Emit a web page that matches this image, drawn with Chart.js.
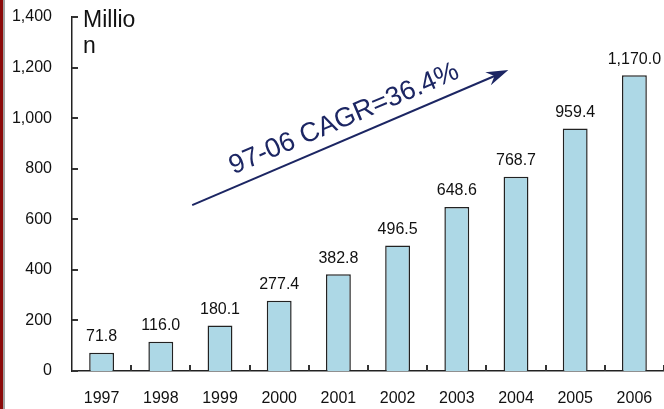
<!DOCTYPE html>
<html>
<head>
<meta charset="utf-8">
<script src="https://cdn.jsdelivr.net/npm/chart.js@4"></script>
<style>
  html, body { margin: 0; padding: 0; background: #fff; }
  #wrap { width: 664px; height: 409px; position: relative; }
</style>
</head>
<body>
<div id="wrap"><canvas id="subs"></canvas></div>
<script>
// Subscribers per year (million)
const years = ['1997', '1998', '1999', '2000', '2001', '2002', '2003', '2004', '2005', '2006'];
const subscribers = [71.8, 116.0, 180.1, 277.4, 382.8, 496.5, 648.6, 768.7, 959.4, 1170.0];
const yTicks = [0, 200, 400, 600, 800, 1000, 1200, 1400];
const unitLines = ['Millio', 'n'];
const growthNote = '97-06 CAGR=36.4%';

const FONT = '"Liberation Sans", Arial, Helvetica, sans-serif';
const NAVY = '#1c2663';

const fmt = v => v.toLocaleString('en-US', { minimumFractionDigits: 1, maximumFractionDigits: 1 });

// inward tick marks along both axes
const axisTicks = {
  id: 'axisTicks',
  afterDatasetsDraw(chart) {
    const c = chart.ctx;
    const x = chart.scales.x, y = chart.scales.y;
    const left = x.left, bottom = y.bottom;
    c.save();
    c.fillStyle = '#333';
    for (const t of yTicks) {
      const py = Math.round(y.getPixelForValue(t));
      c.fillRect(left, py - 1, 6, 2);
    }
    for (let i = 1; i <= years.length; i++) {
      const px = Math.round(x.left + (x.right - x.left) * i / years.length);
      c.fillRect(px - 1, bottom - 6, 2, 6);
    }
    c.restore();
  }
};

// frame, value labels, unit text and growth arrow
const decor = {
  id: 'decor',
  beforeDraw(chart) {
    const c = chart.ctx;
    c.save();
    c.fillStyle = '#8b0a0a';
    c.fillRect(0, 0, 3, chart.height);
    c.fillStyle = '#a0a0a0';
    c.fillRect(3, 0, 2, chart.height);
    c.restore();
  },
  afterDraw(chart) {
    const c = chart.ctx;
    const x = chart.scales.x, y = chart.scales.y;
    const area = chart.chartArea;
    c.save();

    // values above bars
    c.fillStyle = '#111';
    c.font = '16px ' + FONT;
    c.textAlign = 'center';
    c.textBaseline = 'bottom';
    chart.getDatasetMeta(0).data.forEach((bar, i) => {
      c.fillText(fmt(subscribers[i]), bar.x, bar.y - 8);
    });

    // unit
    c.textAlign = 'left';
    c.textBaseline = 'alphabetic';
    c.font = '23px ' + FONT;
    c.fillText(unitLines[0], area.left + 11, 27);
    c.fillText(unitLines[1], area.left + 11, 53);

    // growth arrow
    const x0 = x.getPixelForValue(1.53), y0 = y.getPixelForValue(656);
    const x1 = x.getPixelForValue(6.87), y1 = y.getPixelForValue(1190);
    const ang = Math.atan2(y1 - y0, x1 - x0);
    c.strokeStyle = NAVY;
    c.fillStyle = NAVY;
    c.lineWidth = 2;
    c.beginPath();
    c.moveTo(x0, y0);
    c.lineTo(x1 - 6 * Math.cos(ang), y1 - 6 * Math.sin(ang));
    c.stroke();
    c.translate(x1, y1);
    c.rotate(ang);
    c.beginPath();
    c.moveTo(0, 0);
    c.lineTo(-22, -7);
    c.lineTo(-15, 0);
    c.lineTo(-22, 7);
    c.closePath();
    c.fill();
    c.setTransform(1, 0, 0, 1, 0, 0);

    const mx = (x0 + x1) / 2, my = (y0 + y1) / 2;
    c.translate(mx - 18 * Math.sin(-ang) + 1, my - 18 * Math.cos(ang) - 2);
    c.rotate(ang);
    c.font = '27px ' + FONT;
    c.textAlign = 'center';
    c.textBaseline = 'middle';
    c.fillText(growthNote, 0, 0);
    c.restore();
  }
};

new Chart(document.getElementById('subs'), {
  type: 'bar',
  data: {
    labels: years,
    datasets: [{
      data: subscribers,
      backgroundColor: '#add8e6',
      borderColor: '#222',
      borderWidth: 1.5,
      borderSkipped: 'bottom',
      categoryPercentage: 1,
      barPercentage: 0.42
    }]
  },
  options: {
    responsive: true,
    maintainAspectRatio: false,
    animation: false,
    layout: { padding: { top: 17, right: 0, left: 0, bottom: 0 } },
    plugins: { legend: { display: false }, tooltip: { enabled: false } },
    scales: {
      x: {
        grid: { display: false, drawTicks: false },
        border: { display: true, color: '#222', width: 1.5 },
        ticks: { color: '#111', font: { family: FONT, size: 16 }, padding: 18, maxRotation: 0 },
        afterFit(s) { s.height = 38; s.paddingLeft = 0; s.paddingRight = 0; }
      },
      y: {
        min: 0,
        max: 1400,
        afterBuildTicks(s) { s.ticks = yTicks.map(v => ({ value: v })); },
        grid: { display: false, drawTicks: false },
        border: { display: true, color: '#222', width: 1.5 },
        ticks: {
          color: '#111',
          font: { family: FONT, size: 16 },
          padding: 20,
          callback: v => v.toLocaleString('en-US')
        },
        afterFit(s) { s.width = 72; s.paddingTop = 0; s.paddingBottom = 0; }
      }
    }
  },
  plugins: [axisTicks, decor]
});
</script>
</body>
</html>
